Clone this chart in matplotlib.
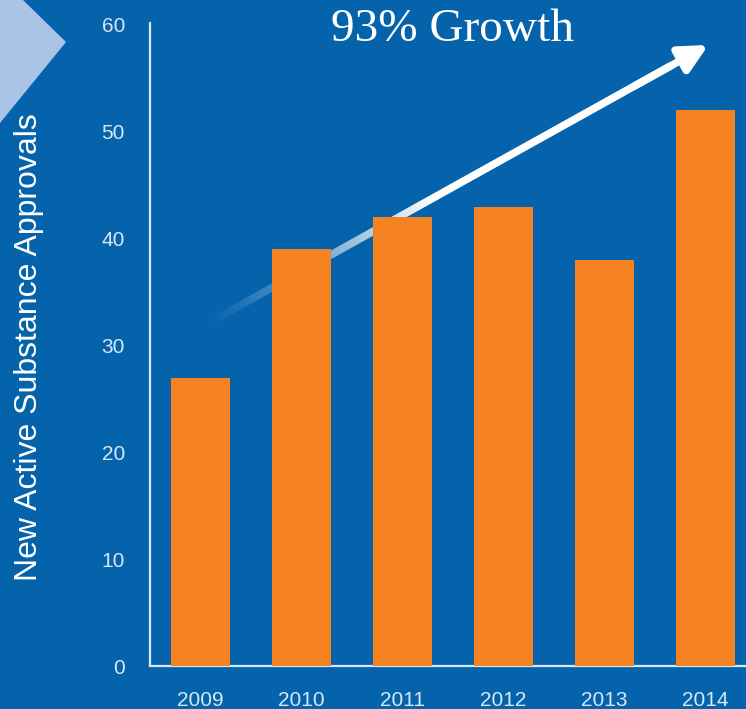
import numpy as np
import matplotlib.pyplot as plt
from matplotlib.patches import FancyArrowPatch, Polygon

years = ['2009', '2010', '2011', '2012', '2013', '2014']
approvals = [27, 39, 42, 43, 38, 52]
y_ticks = [0, 10, 20, 30, 40, 50, 60]

BG = '#0563ab'
BAR = '#f58220'
PALE = '#d7e7f6'

plt.rcParams['font.family'] = ['Liberation Sans', 'DejaVu Sans']

W, H = 746, 709
AX_W, AX_H = 596, 641
fig = plt.figure(figsize=(W / 100, H / 100), dpi=100, facecolor=BG)
ax = fig.add_axes([150 / W, 43 / H, AX_W / W, AX_H / H])
ax.set_facecolor(BG)

x = np.arange(len(years))
ax.bar(x, approvals, width=0.59, color=BAR, zorder=3)

ax.set_xticks(x)
ax.set_xticklabels(years)
ax.set_yticks(y_ticks)
ax.tick_params(length=0, colors=PALE, labelsize=15)
ax.tick_params(axis='x', pad=18)
ax.tick_params(axis='y', pad=18)

for side in ['top', 'right']:
    ax.spines[side].set_visible(False)
for side in ['left', 'bottom']:
    ax.spines[side].set_color(PALE)
    ax.spines[side].set_linewidth(1.6)
ax.spines['left'].set_bounds(0, 60.2)

fig.text(29 / W, 1 - 347 / H, 'New Active Substance Approvals', color='white',
         fontsize=23, rotation=90, ha='center', va='center')

# growth arrow: shaft fades in from the lower left, solid white towards the head
x0, y0 = 0.092, 0.532
x1, y1 = 0.935, 0.968
p0 = np.array([x0 * AX_W, y0 * AX_H])
p1 = np.array([x1 * AX_W, y1 * AX_H])
d = p1 - p0
L = np.hypot(*d)
u = d / L
nrm = np.array([-u[1], u[0]]) * 3.8
pe = p0 + d * 0.93
shaft_px = np.array([p0 + nrm, pe + nrm, pe - nrm, p0 - nrm])
shaft = Polygon(shaft_px / [AX_W, AX_H], closed=True, transform=ax.transAxes,
                facecolor='none', edgecolor='none')
ax.add_patch(shaft)

gx, gy = np.meshgrid(np.arange(AX_W) + 0.5, np.arange(AX_H)[::-1] + 0.5)
t = ((gx - p0[0]) * u[0] + (gy - p0[1]) * u[1]) / L
grad = np.ones((AX_H, AX_W, 4))
grad[..., 3] = np.clip(t / 0.45, 0, 1) ** 1.2
ax.set_autoscale_on(False)
img = ax.imshow(grad, extent=(0, 1, 0, 1), transform=ax.transAxes, aspect='auto',
                interpolation='bilinear', zorder=2)
img.set_clip_path(shaft)

head = FancyArrowPatch(tuple((p0 + d * 0.85) / [AX_W, AX_H]), (x1 + 0.006, y1 + 0.003),
                       transform=ax.transAxes, arrowstyle='-|>', mutation_scale=42,
                       color='white', lw=5.4, zorder=2)
ax.add_patch(head)

ax.set_xlim(-0.5, 5.4)
ax.set_ylim(0, 60)

fig.text(453 / W, 1 - 30 / H, '93% Growth', color='white', fontsize=34,
         family='Liberation Serif', ha='center', va='center')

# pale chevron in the top left corner
tri = Polygon([(0, 1), (23 / W, 1), (66 / W, 1 - 42 / H), (0, 1 - 123 / H)],
              closed=True, transform=fig.transFigure, facecolor='#a9c4e6', edgecolor='none')
fig.patches.append(tri)

fig.savefig('out.png', dpi=100, facecolor=BG)
